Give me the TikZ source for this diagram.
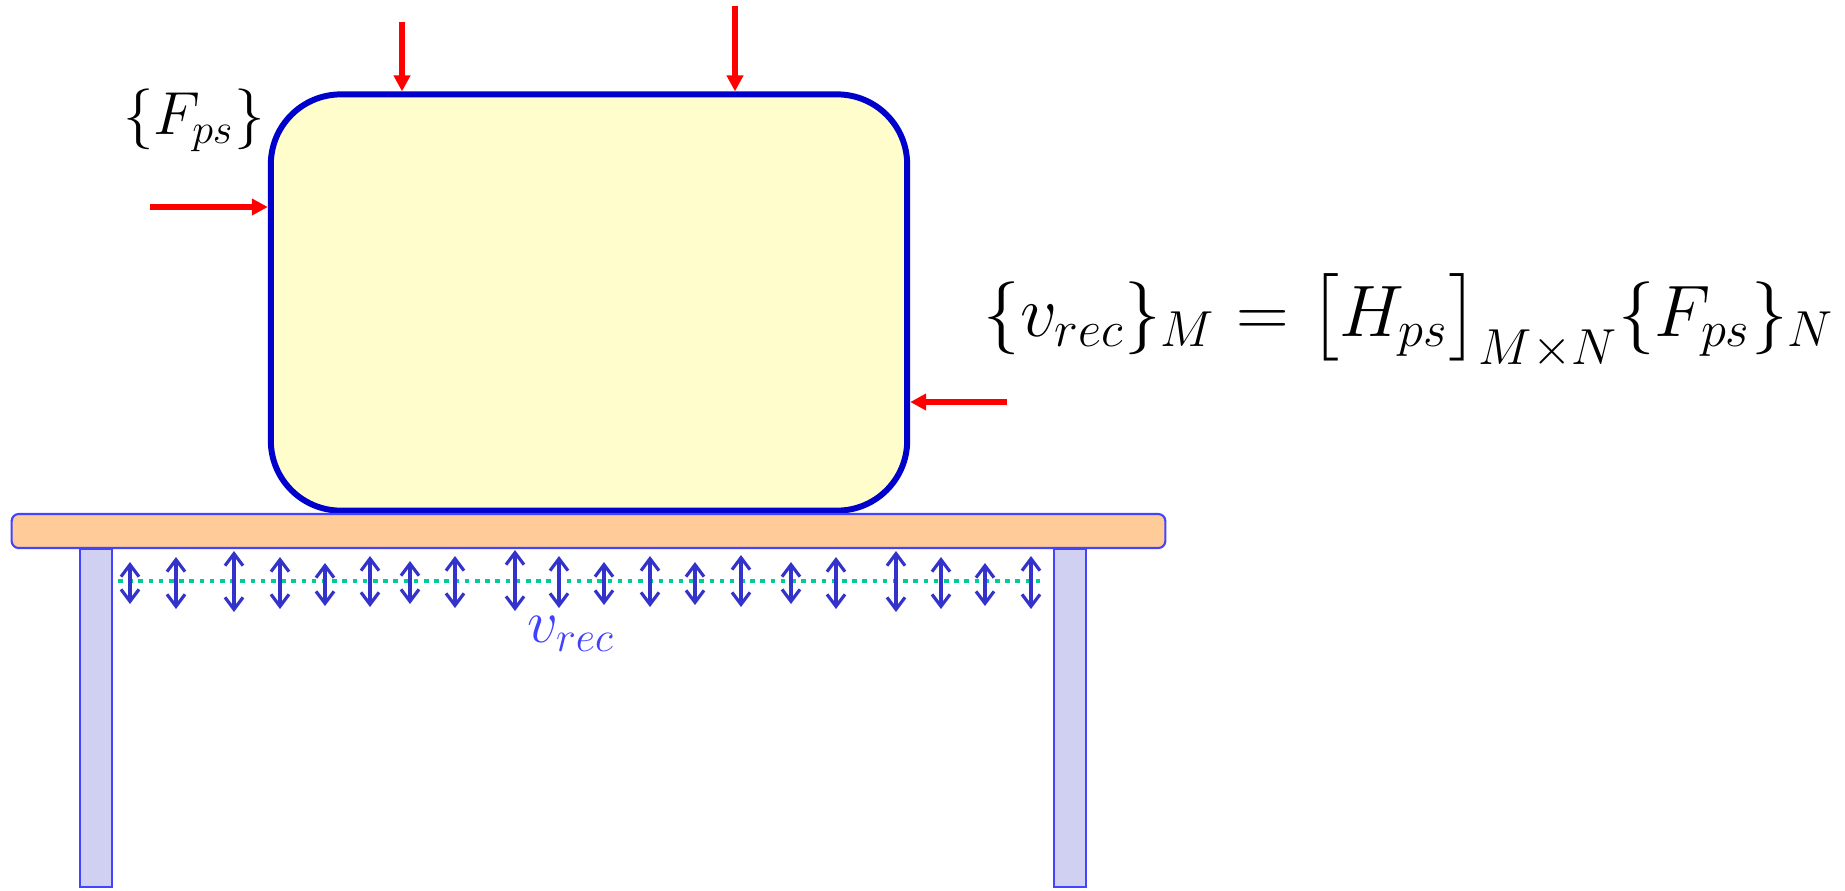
\documentclass[tikz,border=0pt]{standalone}
\usepackage{amsmath, amssymb}
\usepackage{tikz}
\usetikzlibrary{arrows.meta, positioning, calc}
\usepackage{xcolor}
\definecolor{borde}{RGB}{0,0,204}
\definecolor{relleno}{RGB}{255,253,204}
\definecolor{fuerzacol}{RGB}{255,0,0}
\definecolor{madera}{RGB}{255,204,153}
\definecolor{patacol}{RGB}{208,208,242}
\definecolor{marco}{RGB}{68,68,255}
\definecolor{vibcol}{RGB}{51,51,204}
\definecolor{sensorcol}{RGB}{0,204,153}
\definecolor{etiqueta}{RGB}{64,64,255}
\tikzset{
  bloque/.style={rectangle, draw=borde, fill=relleno, line width=1.7pt,
                 rounded corners=0.7cm, minimum width=6.36cm, minimum height=4.16cm, inner sep=0pt},
  tablero/.style={rectangle, draw=marco, fill=madera, line width=0.6pt,
                  rounded corners=2pt, minimum width=11.53cm, minimum height=0.34cm, inner sep=0pt},
  pata/.style={rectangle, draw=marco, fill=patacol, line width=0.6pt,
               minimum width=0.32cm, minimum height=3.38cm, inner sep=0pt},
  fuerza/.style={-{Triangle[length=0.16cm, width=0.16cm]}, fuerzacol, line width=1.5pt},
  vib/.style={{Straight Barb[length=0.12cm, width=0.18cm]}-{Straight Barb[length=0.12cm, width=0.18cm]},
              vibcol, line width=0.9pt},
  sensor/.style={sensorcol, line width=1.3pt, dash pattern=on 1.3pt off 1.6pt}
}
\begin{document}
\begin{tikzpicture}[x=0.01cm, y=-0.01cm]
    \useasboundingbox (0,0) rectangle (1845,890);
    % cuerpo sobre la mesa
    \node[bloque] (cuerpo) at (589,302.5) {};
    \node[pata, anchor=north] (pataizq) at (96,548) {};
    \node[pata, anchor=north] (patader) at (1070,548) {};
    \node[tablero] (mesa) at (588.5,531) {};
    % fuerzas
    \coordinate (f1) at (402,22);
    \coordinate (f2) at (735,6);
    \coordinate (f3) at (150,207);
    \coordinate (f4) at (1007,402);
    \draw[fuerza] (f1) -- (f1 |- cuerpo.north);
    \draw[fuerza] (f2) -- (f2 |- cuerpo.north);
    \draw[fuerza] (f3) -- (f3 -| cuerpo.west);
    \draw[fuerza] (f4) -- (f4 -| cuerpo.east);
    \node[font=\LARGE] (fps) at (194,120) {$\{F_{ps}\}$};
    % respuesta medida
    \draw[sensor] (118,581) -- (1041,581);
    \foreach \x/\a/\b in {130/562/604, 176/557/609, 234/551/612, 280/557/609,
        325/563/606, 370/556/607, 410/561/604, 455/556/608, 515/550/611,
        559/556/608, 604/562/605, 650/556/607, 695/562/605, 741/555/607,
        791/562/604, 836/557/609, 896/551/612, 941/557/609, 985/563/606, 1031/556/609}
      \draw[vib] (\x,\a) -- (\x,\b);
    \node[font=\LARGE, text=etiqueta] (vrec) at (571,634) {$v_{rec}$};
    \node[font=\huge, anchor=base west, inner sep=0pt] (ecuacion) at (983,336)
      {$\{v_{rec}\}_M = \bigl[H_{ps}\bigr]_{M\times N}\{F_{ps}\}_N$};
  \end{tikzpicture}
\end{document}
